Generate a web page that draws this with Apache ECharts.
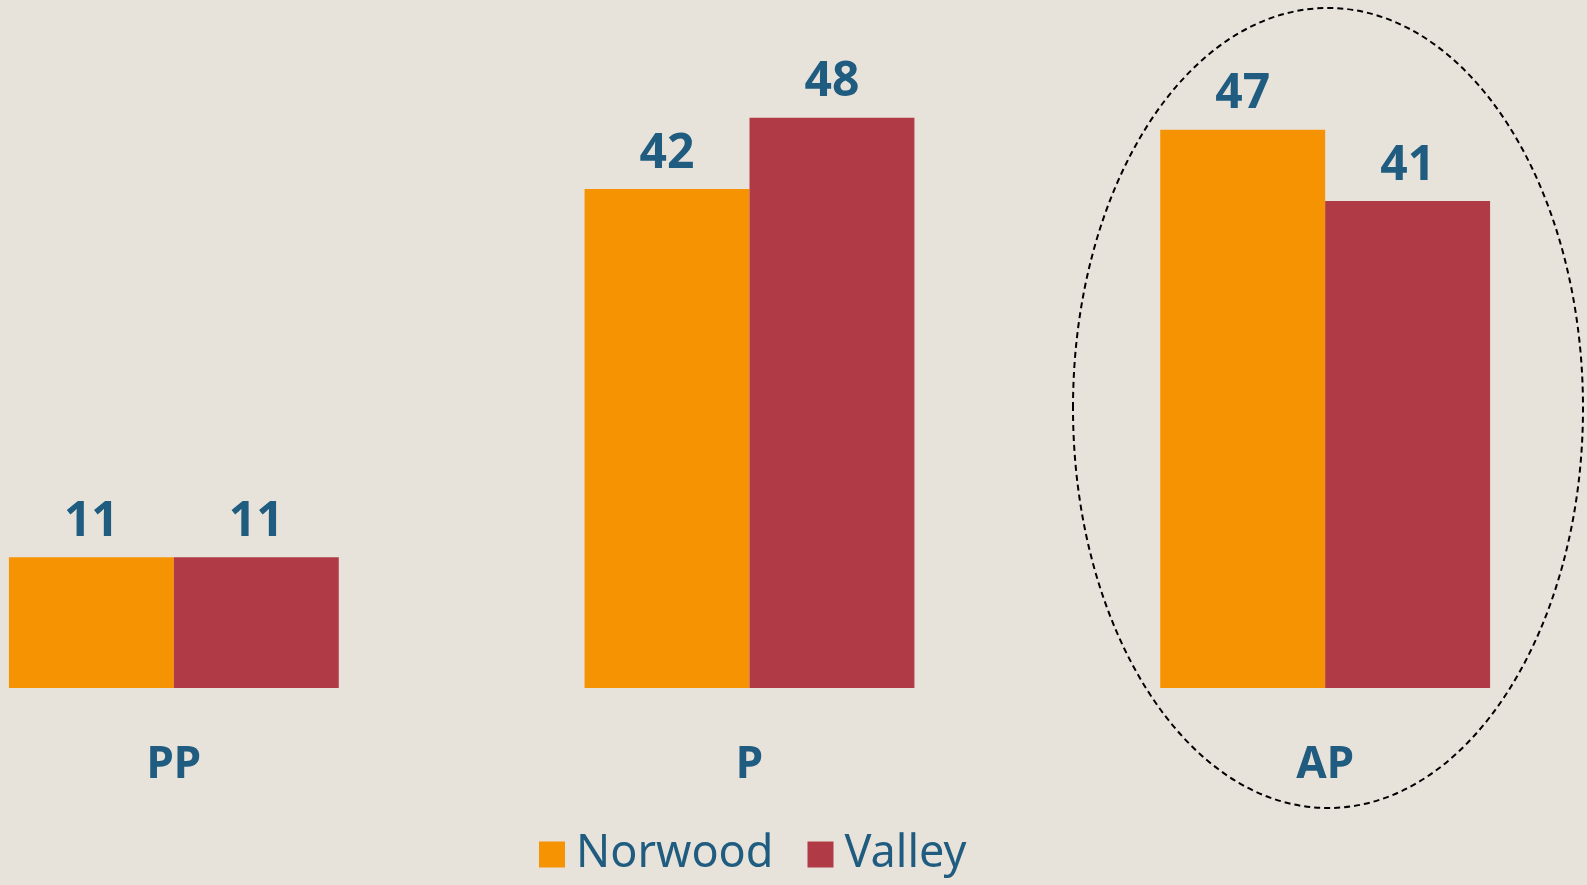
<!DOCTYPE html>
<html>
<head>
<meta charset="utf-8">
<script src="https://cdn.jsdelivr.net/npm/echarts@6/dist/echarts.min.js"></script>
<style>
  html, body { margin: 0; padding: 0; background: #E8E3DA; }
  #graph { width: 1587px; height: 885px; }
</style>
</head>
<body>
<div id="graph"></div>
<script>
var categories = ['PP', 'P', 'AP'];
var norwood = [11, 42, 47];
var valley = [11, 48, 41];

var textColor = '#1F5C80';
var fontFamily = '"Noto Sans", sans-serif';

var labelStyle = {
    show: true,
    position: 'top',
    distance: 11,
    color: textColor,
    fontFamily: fontFamily,
    fontWeight: 'bold',
    fontSize: 48
};

var option = {
    backgroundColor: '#E8E3DA',
    animation: false,
    legend: {
        data: ['Norwood', 'Valley'],
        top: 832,
        left: 539,
        padding: 0,
        icon: 'rect',
        itemWidth: 26,
        itemHeight: 26,
        itemGap: 34,
        textStyle: {
            color: textColor,
            fontFamily: fontFamily,
            fontSize: 45,
            padding: [0, 0, 0, 6]
        }
    },
    // bands are wider than the page, so the grid runs off both edges
    grid: { left: -114, width: 1727, top: 94, height: 594, outerBoundsMode: 'none' },
    xAxis: {
        type: 'category',
        data: categories,
        axisLine: { show: false },
        axisTick: { show: false },
        axisLabel: {
            color: textColor,
            fontFamily: fontFamily,
            fontWeight: 'bold',
            fontSize: 44,
            margin: 55
        }
    },
    yAxis: {
        type: 'value',
        min: 0,
        max: 50,
        show: false,
        splitLine: { show: false }
    },
    series: [{
        name: 'Norwood',
        type: 'bar',
        data: norwood,
        barGap: '0%',
        barCategoryGap: '42.7%',
        itemStyle: { color: '#F59303' },
        label: labelStyle
    }, {
        name: 'Valley',
        type: 'bar',
        data: valley,
        itemStyle: { color: '#B03A45' },
        label: labelStyle
    }],
    graphic: [{
        type: 'ellipse',
        shape: { cx: 1328, cy: 408, rx: 255, ry: 400 },
        style: { fill: 'none', stroke: '#000', lineWidth: 2, lineDash: [6, 4] }
    }]
};

var chart = echarts.init(document.getElementById('graph'));
chart.setOption(option);
</script>
</body>
</html>
